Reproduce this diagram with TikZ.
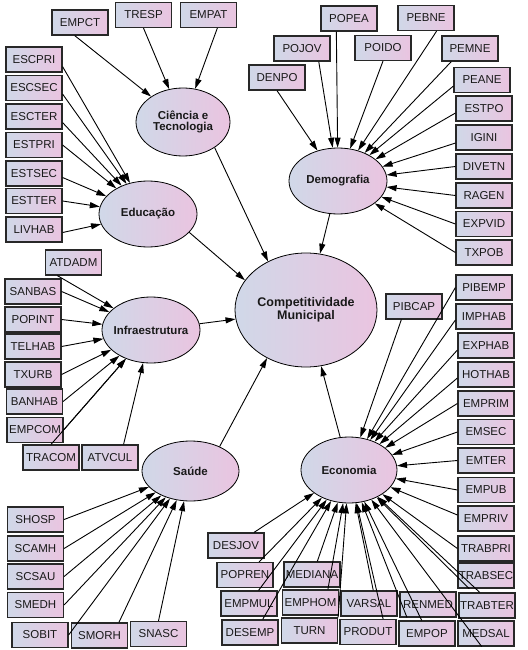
\documentclass[tikz,border=0pt]{standalone}
\usepackage{fontspec}
\setmainfont{Liberation Sans}
\usetikzlibrary{shapes.geometric,arrows.meta}
\definecolor{colL}{RGB}{208,216,232}
\definecolor{colR}{RGB}{234,196,224}
\definecolor{bord}{RGB}{40,40,40}
\definecolor{txt}{RGB}{25,25,25}
\begin{document}
\begin{tikzpicture}[x=1pt,y=-1pt,
  box/.style={rectangle, draw=bord, line width=1.2pt, left color=colL, right color=colR,
    minimum width=56pt, minimum height=25pt, inner sep=0pt, text=txt,
    font=\fontsize{11.5}{13}\selectfont},
  cons/.style={ellipse, draw=black, line width=0.8pt, left color=colL, right color=colR,
    inner sep=0pt, text=txt, font=\fontsize{11.5}{13}\selectfont\bfseries},
  arr/.style={draw=black, line width=0.9pt, -{Triangle[length=10pt,width=6pt]}}]
\fill[white] (0,0) rectangle (527,650);
\useasboundingbox (0,0) rectangle (527,650);

% constructs
\node[cons, minimum width=94pt, minimum height=68pt] (cit) at (183,122)
  {\makebox[0pt]{\begin{tabular}{@{}c@{}}Ciência e\\[-2pt]Tecnologia\end{tabular}}};
\node[cons, minimum width=98pt, minimum height=66pt] (edu) at (148,214) {\makebox[0pt]{Educação}};
\node[cons, minimum width=98pt, minimum height=66pt] (dem) at (338,181) {\makebox[0pt]{Demografia}};
\node[cons, minimum width=142pt, minimum height=114pt, font=\fontsize{12.5}{14}\selectfont\bfseries] (comp) at (306,310)
  {\makebox[0pt]{\begin{tabular}{@{}c@{}}Competitividade\\[-1pt]Municipal\end{tabular}}};
\node[cons, minimum width=98pt, minimum height=66pt] (inf) at (151,330) {\makebox[0pt]{Infraestrutura}};
\node[cons, minimum width=97pt, minimum height=60pt] (sau) at (190.5,471) {\makebox[0pt]{Saúde}};
\node[cons, minimum width=96pt, minimum height=66pt] (eco) at (349,470) {\makebox[0pt]{Economia}};

% Ciencia indicators
\node[box] (empct) at (80,22.5) {EMPCT};
\node[box] (tresp) at (143.5,15) {TRESP};
\node[box] (empat) at (208.5,15) {EMPAT};

% Educacao indicators
\node[box] (escpri) at (34,59.5) {ESCPRI};
\node[box] (escsec) at (34,88) {ESCSEC};
\node[box] (escter) at (34,116.5) {ESCTER};
\node[box] (estpri) at (34,145) {ESTPRI};
\node[box] (estsec) at (34,173.5) {ESTSEC};
\node[box] (estter) at (34,201) {ESTTER};
\node[box] (livhab) at (34,229.5) {LIVHAB};

% Demografia indicators
\node[box] (denpo) at (277,77.5) {DENPO};
\node[box] (pojov) at (302,48.5) {POJOV};
\node[box] (popea) at (349,18.5) {POPEA};
\node[box] (poido) at (383,48) {POIDO};
\node[box] (pebne) at (426,18) {PEBNE};
\node[box] (pemne) at (470,48.5) {PEMNE};
\node[box] (peane) at (482,80) {PEANE};
\node[box] (estpo) at (484,108.5) {ESTPO};
\node[box] (igini) at (484,137.5) {IGINI};
\node[box] (divetn) at (484,166.5) {DIVETN};
\node[box] (ragen) at (484,195.5) {RAGEN};
\node[box] (expvid) at (484,224) {EXPVID};
\node[box] (txpob) at (484,252.5) {TXPOB};

% Infraestrutura indicators
\node[box] (atdadm) at (73.5,262.5) {ATDADM};
\node[box] (sanbas) at (33,291.5) {SANBAS};
\node[box] (popint) at (33,319.5) {POPINT};
\node[box] (telhab) at (33,346.5) {TELHAB};
\node[box] (txurb) at (33,374.5) {TXURB};
\node[box] (banhab) at (34.5,401.5) {BANHAB};
\node[box] (empcom) at (35,430) {EMPCOM};
\node[box] (tracom) at (51,457.5) {TRACOM};
\node[box] (atvcul) at (110,457.5) {ATVCUL};

% Saude indicators
\node[box] (shosp) at (35.5,519.5) {SHOSP};
\node[box] (scamh) at (35.5,548.5) {SCAMH};
\node[box] (scsau) at (35.5,576.5) {SCSAU};
\node[box] (smedh) at (35.5,605) {SMEDH};
\node[box] (sobit) at (40,635) {SOBIT};
\node[box] (smorh) at (99.5,635.5) {SMORH};
\node[box] (snasc) at (158.5,634) {SNASC};

% Economia indicators
\node[box] (pibcap) at (414,306.5) {PIBCAP};
\node[box] (pibemp) at (484,287.5) {PIBEMP};
\node[box] (imphab) at (484,316.5) {IMPHAB};
\node[box] (exphab) at (486,345.5) {EXPHAB};
\node[box] (hothab) at (486,374.5) {HOTHAB};
\node[box] (emprim) at (486,403.5) {EMPRIM};
\node[box] (emsec) at (486,432) {EMSEC};
\node[box] (emter) at (486,460.5) {EMTER};
\node[box] (empub) at (486,490) {EMPUB};
\node[box] (empriv) at (486,518.5) {EMPRIV};
\node[box] (trabpri) at (486,548.5) {TRABPRI};
\node[box] (trabsec) at (486,575.5) {TRABSEC};
\node[box] (trabter) at (487,605.5) {TRABTER};
\node[box] (medsal) at (486,633.5) {MEDSAL};
\node[box] (desjov) at (236,545.5) {DESJOV};
\node[box] (popren) at (245,575) {POPREN};
\node[box] (empmul) at (249,603.5) {EMPMUL};
\node[box] (desemp) at (250,632.5) {DESEMP};
\node[box] (mediana) at (312,574.5) {MEDIANA};
\node[box] (emphom) at (310.5,602.5) {EMPHOM};
\node[box] (turn) at (309.5,630.5) {TURN};
\node[box] (varsal) at (369,603.5) {VARSAL};
\node[box] (produt) at (368,632) {PRODUT};
\node[box] (renmed) at (428,604.5) {RENMED};
\node[box] (empop) at (427,633.5) {EMPOP};

% structural paths
\draw[arr] (cit.-39) -- (comp.128);
\draw[arr] (edu.-24) -- (comp.154);
\draw[arr] (dem) -- (comp);
\draw[arr] (inf) -- (comp);
\draw[arr] (sau.40) -- (comp.231);
\draw[arr] (eco) -- (comp);

% Ciencia
\draw[arr] (empct.-112) -- (cit);
\draw[arr] (tresp.south) -- (cit);
\draw[arr] (empat.-56) -- (cit);

% Educacao
\draw[arr] (escpri.-14) -- (edu);
\draw[arr] (escsec.-12) -- (edu);
\draw[arr] (escter.-12) -- (edu);
\draw[arr] (estpri.east) -- (edu);
\draw[arr] (estsec.-8) -- (edu);
\draw[arr] (estter.east) -- (edu);
\draw[arr] (livhab.-6) -- (edu);

% Demografia
\draw[arr] (denpo.south) -- (dem);
\draw[arr] (pojov.-38) -- (dem);
\draw[arr] (popea.-134) -- (dem);
\draw[arr] (poido.south) -- (dem);
\draw[arr] (pebne.-51) -- (dem);
\draw[arr] (pemne.-145) -- (dem);
\draw[arr] (peane.-168) -- (dem);
\draw[arr] (estpo.-171) -- (dem);
\draw[arr] (igini.-169) -- (dem);
\draw[arr] (divetn.west) -- (dem);
\draw[arr] (ragen.west) -- (dem);
\draw[arr] (expvid.west) -- (dem);
\draw[arr] (txpob.west) -- (dem);

% Infraestrutura
\draw[arr] (atdadm.-141) -- (inf);
\draw[arr] (sanbas.east) -- (inf);
\draw[arr] (popint.east) -- (inf);
\draw[arr] (telhab.east) -- (inf);
\draw[arr] (txurb.east) -- (inf);
\draw[arr] (banhab.east) -- (inf);
\draw[arr] (empcom.east) -- (inf);
\draw[arr] (tracom.north) -- (inf);
\draw[arr] (atvcul.44) -- (inf);

% Saude
\draw[arr] (shosp.east) -- (sau);
\draw[arr] (scamh.east) -- (sau);
\draw[arr] (scsau.east) -- (sau);
\draw[arr] (smedh.east) -- (sau);
\draw[arr] (sobit.east) -- (sau);
\draw[arr] (smorh.34) -- (sau);
\draw[arr] (snasc.north) -- (sau);

% Economia
\draw[arr] (pibcap.-134) -- (eco);
\draw[arr] (pibemp.west) -- (eco);
\draw[arr] (imphab.-173) -- (eco);
\draw[arr] (exphab.-171) -- (eco);
\draw[arr] (hothab.-173) -- (eco);
\draw[arr] (emprim.west) -- (eco);
\draw[arr] (emsec.west) -- (eco);
\draw[arr] (emter.west) -- (eco);
\draw[arr] (empub.west) -- (eco);
\draw[arr] (empriv.173) -- (eco);
\draw[arr] (trabpri.west) -- (eco);
\draw[arr] (trabsec.-142) -- (eco);
\draw[arr] (trabter.119) -- (eco);
\draw[arr] (medsal.-108) -- (eco);
\draw[arr] (empop.112) -- (eco);
\draw[arr] (renmed.-148) -- (eco);
\draw[arr] (produt.41) -- (eco);
\draw[arr] (varsal.72) -- (eco);
\draw[arr] (turn.north east) -- (eco);
\draw[arr] (emphom.37) -- (eco);
\draw[arr] (mediana.68) -- (eco);
\draw[arr] (desjov.36) -- (eco);
\draw[arr] (popren.43) -- (eco);
\draw[arr] (empmul.54) -- (eco);
\draw[arr] (desemp.46) -- (eco);
\end{tikzpicture}
\end{document}
